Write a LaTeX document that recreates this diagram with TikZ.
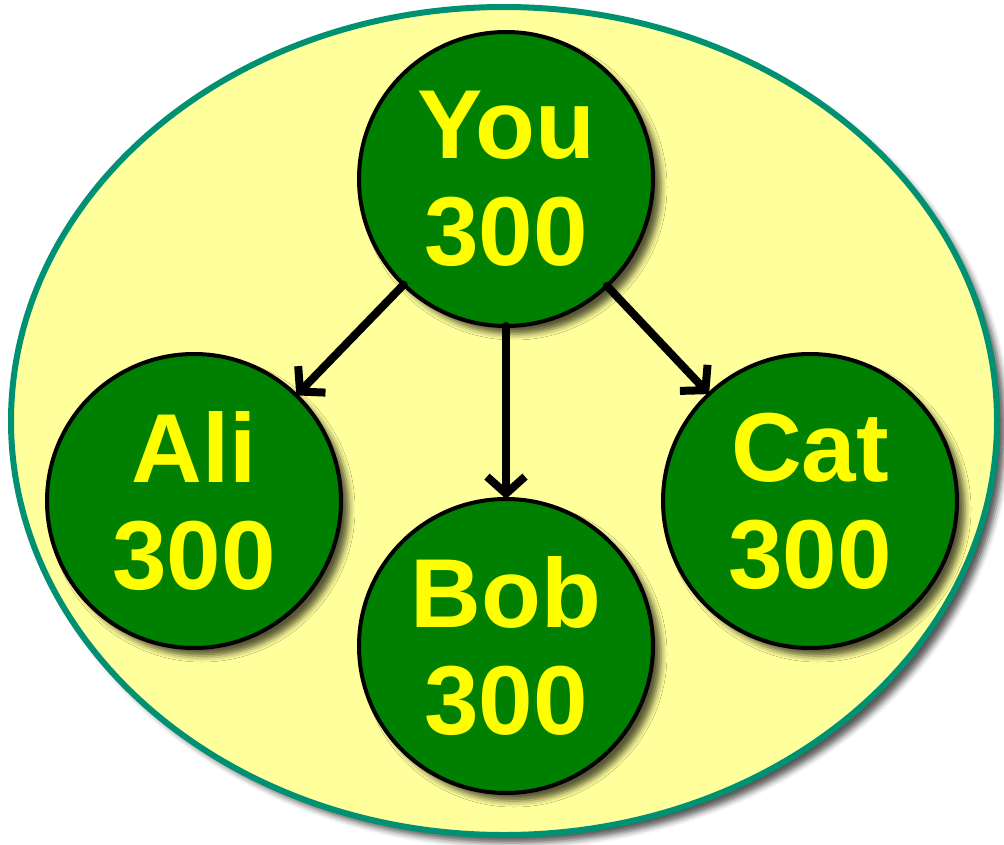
\documentclass[tikz,border=0pt]{standalone}
\usepackage{fontspec}
\setmainfont{Liberation Sans}
\usetikzlibrary{arrows.meta,shadows.blur}
\definecolor{nodegreen}{RGB}{0,128,0}
\definecolor{bgyellow}{RGB}{255,255,155}
\definecolor{rimteal}{RGB}{0,145,115}
\definecolor{txtyellow}{RGB}{255,255,0}
\begin{document}
\begin{tikzpicture}[x=1pt,y=-1pt,
  person/.style={circle, draw=black, line width=4pt, fill=nodegreen,
    minimum size=294pt, inner sep=0pt, outer sep=0pt, align=center, text=txtyellow,
    font=\fontsize{98}{107}\selectfont\bfseries,
    blur shadow={shadow xshift=8pt, shadow yshift=-8pt, shadow blur radius=6pt, shadow opacity=65}},
  link/.style={line width=8pt, line cap=round, -{Straight Barb[length=17pt,width=38pt]}},
  field/.style={fill=bgyellow, draw=rimteal, line width=6pt,
    blur shadow={shadow xshift=8pt, shadow yshift=-8pt, shadow blur radius=6pt, shadow opacity=65}}]
\useasboundingbox (0,0) rectangle (1004,845);
\path[field] (504,421) ellipse [x radius=493, y radius=414];
\node[person] (you) at (506,179) {You\\300};
\node[person] (ali) at (194,501) {Ali\\300};
\node[person] (bob) at (506,646) {Bob\\300};
\node[person] (cat) at (810,501) {Cat\\300};
\draw[link] (you) -- (ali);
\draw[link] (you) -- (bob);
\draw[link] (you) -- (cat);
\end{tikzpicture}
\end{document}
